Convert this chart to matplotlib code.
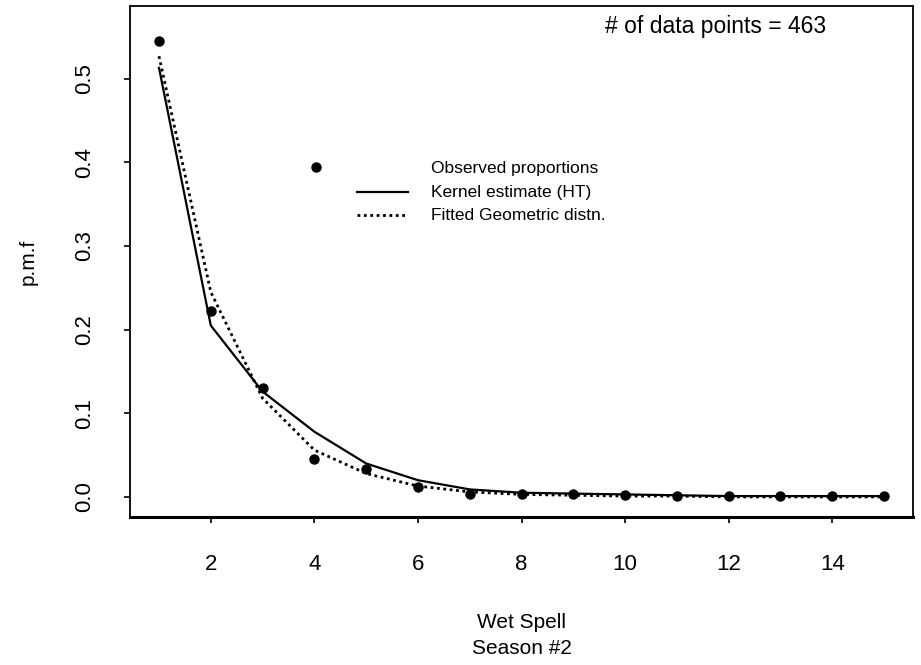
import matplotlib
matplotlib.use("Agg")
import matplotlib.pyplot as plt
from matplotlib.lines import Line2D

plt.rcParams['font.family'] = ['Liberation Sans', 'DejaVu Sans']

# wet spell lengths
spell = [1, 2, 3, 4, 5, 6, 7, 8, 9, 10, 11, 12, 13, 14, 15]
# observed proportions (dots)
observed = [0.545, 0.222, 0.130, 0.045, 0.033, 0.012, 0.004, 0.004,
            0.003, 0.002, 0.001, 0.001, 0.001, 0.001, 0.001]
# kernel estimate (HT), solid line
kernel = [0.513, 0.205, 0.126, 0.078, 0.040, 0.020, 0.009, 0.005,
          0.004, 0.003, 0.002, 0.001, 0.001, 0.001, 0.001]
# fitted geometric distribution, dotted line
geometric = [0.527, 0.245, 0.118, 0.056, 0.028, 0.013, 0.006, 0.003,
             0.002, 0.001, 0.001, 0.000, 0.000, 0.000, 0.000]

n_points = 463
xticks = [2, 4, 6, 8, 10, 12, 14]
yticks = [0.0, 0.1, 0.2, 0.3, 0.4, 0.5]

fig = plt.figure(figsize=(9.21, 6.65), dpi=100)
ax = fig.add_axes([130/921, 1 - 517/665, (913-130)/921, (517-6)/665])

ax.plot(spell, kernel, color='black', lw=1.6, solid_joinstyle='miter')
ax.plot(spell, geometric, color='black', lw=2.0, linestyle=(0, (1.0, 1.3)))
ax.plot(spell, observed, linestyle='none', marker='o', ms=6.5, color='black')

ax.set_xlim(0.44, 15.56)
ax.set_ylim(-0.024, 0.587)
ax.set_xticks(xticks)
ax.set_yticks(yticks)
ax.set_xticklabels([str(t) for t in xticks], fontsize=16)
ax.set_yticklabels(['%.1f' % t for t in yticks], fontsize=16, rotation=90, va='center')
ax.tick_params(axis='x', length=4, width=1.2, pad=23)
ax.tick_params(axis='y', length=4, width=1.2, pad=21)
for s in ax.spines.values():
    s.set_linewidth(1.3)
ax.spines['bottom'].set_linewidth(2.2)

ax.set_ylabel('p.m.f', fontsize=15, labelpad=26)
fig.text((130+913)/2/921, 1 - 622/665, 'Wet Spell', ha='center', va='center', fontsize=15)
fig.text((130+913)/2/921, 1 - 648/665, 'Season #2', ha='center', va='center', fontsize=15)

ax.text((605-130)/(913-130), (517-26)/(517-6), '# of data points = %d' % n_points,
        transform=ax.transAxes, fontsize=16.5, va='center', ha='left')

# legend drawn as in the original (point offset to the left of the line keys)
tr = ax.transAxes
def fx(px):
    return (px - 130) / (913 - 130)
def fy(py):
    return (517 - py) / (517 - 6)
rows = [168, 192, 215]
ax.add_line(Line2D([fx(316)], [fy(rows[0] - 1)], marker='o', ms=6.5, color='black', transform=tr))
ax.add_line(Line2D([fx(357), fx(408)], [fy(rows[1])]*2, color='black', lw=1.6, transform=tr))
ax.add_line(Line2D([fx(357), fx(408)], [fy(rows[2])]*2, color='black', lw=2.0,
                   linestyle=(0, (1.0, 1.3)), transform=tr))
labels = ['Observed proportions', 'Kernel estimate (HT)', 'Fitted Geometric distn.']
for lab, py in zip(labels, rows):
    ax.text(fx(431), fy(py), lab, transform=tr, fontsize=12.5, va='center', ha='left')

fig.savefig('out.png', dpi=100)
